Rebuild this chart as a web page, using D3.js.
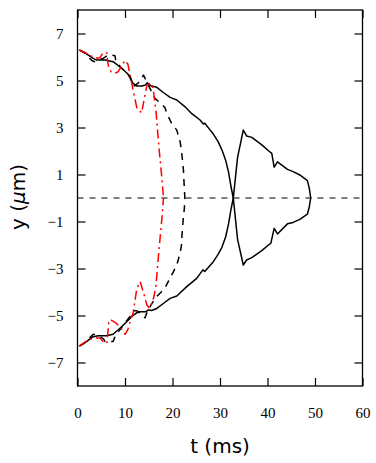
<!DOCTYPE html>
<html>
<head>
<meta charset="utf-8">
<script src="https://cdn.jsdelivr.net/npm/d3@7"></script>
<style>
  body { margin: 0; background: #fff; }
  svg { display: block; }
  .tick text { font-family: "Liberation Serif", "Times New Roman", "DejaVu Serif", serif; font-size: 15px; }
</style>
</head>
<body>
<div id="chart"></div>
<script>
// axis ticks
const tTicks = [0, 10, 20, 30, 40, 50, 60]
const yTicks = [7, 5, 3, 1, -1, -3, -5, -7]

// solid black: outer front (upper / lower) and second lobe
const solidUpper = [[0.6, 6.28], [1.6, 6.18], [3.3, 5.94], [4.0, 5.87], [5.8, 5.87], [7.5, 5.80], [9.3, 5.52], [11.0, 5.2], [11.6, 4.9],
  [12.4, 4.77], [13.5, 4.77], [14.2, 4.8], [14.7, 4.9], [15.4, 4.78], [16.7, 4.71], [18.0, 4.5], [19.5, 4.28], [20.9, 4.17],
  [22.6, 3.89], [24.0, 3.60], [25.8, 3.32], [26.5, 3.15], [26.8, 3.18], [27.9, 2.9], [28.6, 2.72], [29.6, 2.4], [30.5, 2.0],
  [31.2, 1.6], [31.8, 1.1], [32.3, 0.5], [32.8, 0]]
const solidLower = [[0.6, -6.28], [1.9, -6.11], [3.3, -5.90], [4.4, -5.86], [6.1, -5.86], [7.5, -5.80], [9.3, -5.48], [11.4, -5.05],
  [12.5, -4.88], [13.2, -4.84], [14.4, -4.84], [14.9, -4.77], [15.6, -4.79], [16.7, -4.70], [18.0, -4.5], [19.5, -4.27],
  [20.9, -4.17], [23.0, -3.77], [25.1, -3.42], [26.4, -3.06], [26.8, -3.13], [28.6, -2.71], [29.6, -2.4], [30.4, -2.1],
  [31.2, -1.65], [31.8, -1.1], [32.3, -0.5], [32.8, 0]]
const lobeUpper = [[32.8, 0], [33.7, 1.73], [34.9, 2.89], [35.6, 2.64], [36.7, 2.58], [38.8, 2.26], [40.2, 2.01], [40.9, 1.90],
  [41.4, 1.31], [42.1, 1.54], [44.2, 1.22], [45.4, 1.12], [46.8, 0.98], [48.4, 0.74], [48.8, 0.41], [49.1, 0]]
const lobeLower = [[32.8, 0], [33.7, -1.76], [34.9, -2.85], [35.6, -2.64], [36.7, -2.54], [38.8, -2.24], [40.2, -2.0], [40.7, -1.93],
  [41.4, -1.29], [42.1, -1.53], [44.2, -1.1], [45.4, -1.04], [46.8, -0.91], [48.4, -0.69], [48.8, -0.37], [49.1, 0]]

// dashed black front
const dashUpper = [[0.4, 6.3], [1.6, 6.15], [3.0, 5.85], [3.5, 5.8], [4.4, 5.87], [5.5, 5.95], [6.2, 6.05], [6.8, 6.1], [7.9, 6.05],
  [8.1, 5.8], [9.3, 5.52], [10.5, 5.3], [11.1, 5.1], [11.5, 4.82], [12.0, 4.77], [12.8, 4.9], [13.9, 5.23], [14.4, 5.02],
  [15.0, 4.77], [15.6, 4.52], [16.3, 4.24], [17.4, 4.05], [18.4, 3.85], [18.8, 3.6], [19.8, 3.18], [20.9, 2.89], [21.6, 2.4],
  [21.9, 2.0], [22.1, 1.6], [22.3, 1.2], [22.4, 0.77], [22.5, 0.4], [22.6, 0]]
const dashLower = [[0.4, -6.3], [1.6, -6.15], [3.3, -5.8], [4.4, -5.85], [5.5, -6.0], [5.8, -6.11], [7.5, -6.11], [7.9, -5.9],
  [9.3, -5.5], [11.4, -4.95], [11.8, -4.8], [12.5, -4.8], [13.5, -4.95], [14.2, -5.1], [14.7, -4.84], [15.5, -4.55],
  [16.3, -4.27], [17.0, -4.13], [18.4, -3.84], [19.1, -3.56], [20.2, -3.13], [20.9, -2.85], [21.6, -2.35], [21.9, -2.0],
  [22.0, -1.57], [22.1, -1.29], [22.3, -0.8], [22.5, -0.44], [22.6, 0]]

// red dash-dot front
const redUpper = [[0.3, 6.3], [2.2, 6.13], [3.5, 5.96], [4.7, 5.96], [5.4, 6.19], [6.2, 6.17], [6.3, 5.87], [6.6, 5.53], [7.1, 5.36],
  [7.9, 5.32], [8.5, 5.36], [9.4, 5.66], [10.0, 5.85], [10.6, 5.70], [11.3, 5.02], [11.7, 4.6], [12.5, 3.83], [13.5, 3.62],
  [14.0, 4.17], [14.6, 4.77], [15.3, 4.89], [15.9, 4.68], [16.5, 3.74], [17.2, 2.04], [17.8, 0.77], [18.1, 0]]
const redLower = [[0.3, -6.3], [2.3, -6.04], [3.5, -5.96], [4.7, -5.96], [5.4, -6.1], [6.2, -6.18], [6.4, -5.7], [6.6, -5.2],
  [7.1, -5.2], [8.0, -5.3], [8.5, -5.4], [9.4, -5.6], [10.0, -5.8], [10.6, -5.6], [11.3, -5.1], [11.7, -4.9], [12.5, -3.84],
  [13.2, -3.56], [14.0, -4.1], [14.6, -4.55], [15.2, -4.7], [16.0, -4.27], [16.5, -3.77], [17.2, -2.1], [17.8, -0.8], [18.1, 0]]

const width = 376
const height = 463
const margin = { top: 10, right: 13.5, bottom: 77, left: 77.5 }
const innerW = width - margin.left - margin.right
const innerH = height - margin.top - margin.bottom
const tickLen = 8

const x = d3.scaleLinear().domain([0, 60]).range([0, innerW])
const y = d3.scaleLinear().domain([-8, 8]).range([innerH, 0])

const svg = d3.select('#chart').append('svg')
  .attr('width', width).attr('height', height)

const g = svg.append('g').attr('transform', `translate(${margin.left},${margin.top})`)

// zero line
g.append('line')
  .attr('x1', x(0)).attr('x2', x(60))
  .attr('y1', y(0)).attr('y2', y(0))
  .attr('stroke', '#000').attr('stroke-width', 1)
  .attr('stroke-dasharray', '6,6')

const line = d3.line().x(d => x(d[0])).y(d => y(d[1]))

const series = [
  { data: solidUpper, color: '#000', dash: null },
  { data: solidLower, color: '#000', dash: null },
  { data: lobeUpper, color: '#000', dash: null },
  { data: lobeLower, color: '#000', dash: null },
  { data: dashUpper, color: '#000', dash: '7,6' },
  { data: dashLower, color: '#000', dash: '7,6' },
  { data: redUpper, color: '#f00', dash: '9,4,2,4' },
  { data: redLower, color: '#f00', dash: '9,4,2,4' }
]

g.selectAll('path.curve')
  .data(series)
  .enter().append('path')
  .attr('class', 'curve')
  .attr('d', d => line(d.data))
  .attr('fill', 'none')
  .attr('stroke', d => d.color)
  .attr('stroke-width', 1.5)
  .attr('stroke-linejoin', 'round')
  .attr('stroke-dasharray', d => d.dash)

// inward ticks on all four sides
const axisStyle = sel => {
  sel.select('.domain').remove()
  sel.selectAll('.tick line').attr('stroke', '#000').attr('stroke-width', 1.2)
  sel.selectAll('text').attr('fill', '#000')
}

g.append('g')
  .attr('transform', `translate(0,${innerH})`)
  .call(d3.axisBottom(x).tickValues(tTicks).tickSizeInner(-tickLen).tickSizeOuter(0).tickPadding(21))
  .call(axisStyle)

g.append('g')
  .call(d3.axisTop(x).tickValues(tTicks).tickSizeInner(-tickLen).tickSizeOuter(0).tickFormat(''))
  .call(axisStyle)

g.append('g')
  .call(d3.axisLeft(y).tickValues(yTicks).tickSizeInner(-tickLen).tickSizeOuter(0).tickPadding(14))
  .call(axisStyle)

g.append('g')
  .attr('transform', `translate(${innerW},0)`)
  .call(d3.axisRight(y).tickValues(yTicks).tickSizeInner(-tickLen).tickSizeOuter(0).tickFormat(''))
  .call(axisStyle)

// frame
g.append('rect')
  .attr('x', 0).attr('y', 0)
  .attr('width', innerW).attr('height', innerH)
  .attr('fill', 'none').attr('stroke', '#000').attr('stroke-width', 1.3)

// axis titles
svg.append('text')
  .attr('x', margin.left + innerW / 2).attr('y', 453)
  .attr('text-anchor', 'middle')
  .attr('font-family', '"DejaVu Sans", sans-serif').attr('font-size', 20)
  .text('t (ms)')

const yTitle = svg.append('text')
  .attr('transform', 'translate(25,197) rotate(-90)')
  .attr('text-anchor', 'middle')
  .attr('font-family', '"DejaVu Sans", sans-serif').attr('font-size', 20)
yTitle.append('tspan').text('y (')
yTitle.append('tspan').attr('font-style', 'italic').text('μ')
yTitle.append('tspan').text('m)')
</script>
</body>
</html>
